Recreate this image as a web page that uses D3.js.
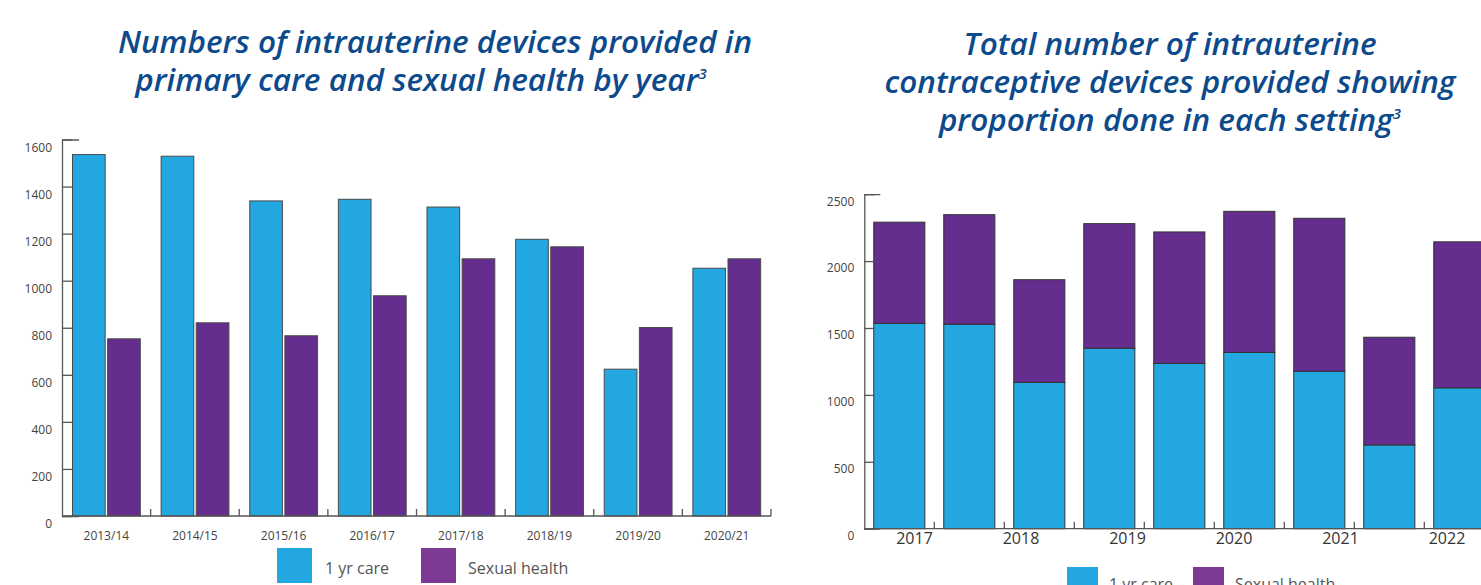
<!DOCTYPE html>
<html>
<head>
<meta charset="utf-8">
<script src="https://cdn.jsdelivr.net/npm/d3@7"></script>
<style>
  body { margin: 0; background: #fff; }
  svg { display: block; font-family: "Open Sans", sans-serif; }
</style>
</head>
<body>
<div id="chart"></div>
<script>
// left chart data
const years = ["2013/14", "2014/15", "2015/16", "2016/17", "2017/18", "2018/19", "2019/20", "2020/21"];
const primaryCare = [1536, 1529, 1339, 1346, 1313, 1176, 624, 1053];
const sexualHealth = [753, 821, 766, 936, 1093, 1144, 801, 1093];
const leftTicks = [0, 200, 400, 600, 800, 1000, 1200, 1400, 1600];

// right chart data (stacked)
const stackBars = ["b1", "b2", "b3", "b4", "b5", "b6", "b7", "b8", "b9"];
const stackCare = [1535, 1528, 1093, 1349, 1235, 1317, 1177, 626, 1053];
const stackSexual = [756, 819, 768, 931, 983, 1055, 1143, 805, 1091];
const rightTicks = [0, 500, 1000, 1500, 2000, 2500];
const yearLabels = [2017, 2018, 2019, 2020, 2021, 2022];

const seriesNames = ["1 yr care", "Sexual health"];
const barColors = ["#23a7e0", "#652d8e"];
const legendColors = ["#23a7e0", "#7d3a94"];
const titleColor = "#0d4a8c";
const axisColor = "#555";

const svg = d3.select("#chart").append("svg").attr("width", 1481).attr("height", 585);

// ---------- left chart ----------
const left = svg.append("g");

const yL = d3.scaleLinear().domain([0, 1600]).range([516, 139.5]);
const x0 = d3.scaleBand().domain(years).range([62, 771]);
const x1 = d3.scaleBand().domain(seriesNames).range([10.5, 78.3]).paddingInner(0.07);

const leftRows = years.map((y, i) => ({ year: y, values: [primaryCare[i], sexualHealth[i]] }));

left.selectAll("g.grp").data(leftRows).join("g").attr("class", "grp")
  .attr("transform", d => "translate(" + x0(d.year) + ",0)")
  .selectAll("rect").data(d => d.values.map((v, k) => ({ v: v, k: k })))
  .join("rect")
  .attr("x", d => x1(seriesNames[d.k]))
  .attr("width", x1.bandwidth())
  .attr("y", d => yL(d.v))
  .attr("height", d => yL(0) - yL(d.v))
  .attr("fill", d => barColors[d.k])
  .attr("stroke", "#4a4a4a").attr("stroke-width", 1);

const yAxisL = left.append("g").attr("transform", "translate(62,0)")
  .call(d3.axisLeft(yL).tickValues(leftTicks).tickFormat(d3.format("d"))
    .tickSize(-10).tickSizeOuter(-17).tickPadding(10));
yAxisL.selectAll("text").attr("transform", "translate(0,8)");

const xAxisL = left.append("g").attr("transform", "translate(0,516)")
  .call(d3.axisBottom(x0).tickSize(0).tickPadding(15).tickSizeOuter(0));
xAxisL.select(".domain").attr("d", "M62,0H771");
xAxisL.selectAll(".bnd").data(years).join("line").attr("class", "bnd")
  .attr("x1", d => x0(d) + x0.step()).attr("x2", d => x0(d) + x0.step())
  .attr("y1", 0).attr("y2", -7);

// ---------- right chart ----------
const right = svg.append("g");

const yR = d3.scaleLinear().domain([0, 2500]).range([528.7, 194.2]);
const xR = d3.scaleBand().domain(stackBars).range([864.3, 864.3 + 70 * stackBars.length])
  .paddingInner(0.27).paddingOuter(0.135);
const yearX = d3.scaleLinear().domain([2017, 2022]).range([914, 1446.5]);

const stackRows = stackBars.map((b, i) => ({ bar: b, care: stackCare[i], sexual: stackSexual[i] }));
const stacked = d3.stack().keys(["care", "sexual"])(stackRows);

right.selectAll("g.layer").data(stacked).join("g").attr("class", "layer")
  .attr("fill", (d, i) => barColors[i])
  .selectAll("rect").data(d => d).join("rect")
  .attr("x", d => xR(d.data.bar))
  .attr("width", xR.bandwidth())
  .attr("y", d => yR(d[1]))
  .attr("height", d => yR(d[0]) - yR(d[1]))
  .attr("stroke", "#333").attr("stroke-width", 1);

const yAxisR = right.append("g").attr("transform", "translate(864.3,0)")
  .call(d3.axisLeft(yR).tickValues(rightTicks).tickFormat(d3.format("d"))
    .tickSize(-10).tickSizeOuter(-16).tickPadding(10));
yAxisR.selectAll("text").attr("transform", "translate(0,7)");

const xAxisR = right.append("g").attr("transform", "translate(0,528.7)")
  .call(d3.axisBottom(yearX).tickValues(yearLabels).tickFormat(d3.format("d"))
    .tickSize(0).tickPadding(4).tickSizeOuter(0));
xAxisR.select(".domain").attr("d", "M864.3,0H1500");
xAxisR.selectAll(".bnd").data(stackBars).join("line").attr("class", "bnd")
  .attr("x1", d => xR(d) + xR.step() * (1 - 0.135))
  .attr("x2", d => xR(d) + xR.step() * (1 - 0.135))
  .attr("y1", 0).attr("y2", -7);

// shared axis styling
svg.selectAll(".domain, .tick line, .bnd").attr("stroke", axisColor).attr("stroke-width", 1.3);
svg.selectAll(".tick text").attr("fill", "#444").style("font-family", "'Open Sans', sans-serif");
left.selectAll(".tick text").attr("font-size", 12);
yAxisR.selectAll(".tick text").attr("font-size", 12);
xAxisR.selectAll(".tick text").attr("font-size", 16).attr("fill", "#333");

// ---------- titles ----------
function title(lines, y0) {
  lines.forEach((l, i) => {
    const t = svg.append("text").attr("text-anchor", "middle")
      .attr("fill", titleColor).attr("font-size", 31.5).attr("font-weight", 600)
      .attr("font-style", "italic")
      .attr("x", l.cx).attr("y", y0 + i * 38).text(l.text);
    if (l.sup) t.append("tspan").attr("font-size", 15).attr("dy", -12).text(l.sup);
  });
}
title([
  { text: "Numbers of intrauterine devices provided in", cx: 435 },
  { text: "primary care and sexual health by year", sup: "3", cx: 421 }
], 53);
title([
  { text: "Total number of intrauterine", cx: 1170 },
  { text: "contraceptive devices provided showing", cx: 1170 },
  { text: "proportion done in each setting", sup: "3", cx: 1170 }
], 55);

// ---------- legends ----------
function legend(items) {
  items.forEach(it => {
    svg.append("rect").attr("x", it.x).attr("y", it.y).attr("width", it.w).attr("height", it.h)
      .attr("fill", legendColors[it.k]);
    svg.append("text").attr("x", it.tx).attr("y", it.ty).attr("font-size", it.fs)
      .attr("fill", "#555").text(seriesNames[it.k]);
  });
}
legend([
  { k: 0, x: 277, y: 548, w: 35, h: 35, tx: 325, ty: 574, fs: 16 },
  { k: 1, x: 421, y: 548, w: 35, h: 35, tx: 468, ty: 574, fs: 16 },
  { k: 0, x: 1067, y: 567, w: 31, h: 31, tx: 1109, ty: 590, fs: 16 },
  { k: 1, x: 1193, y: 567, w: 31, h: 31, tx: 1235, ty: 590, fs: 16 }
]);
</script>
</body>
</html>
